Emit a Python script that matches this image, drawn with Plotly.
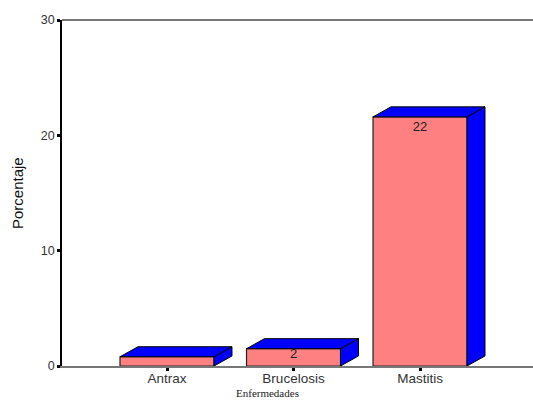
import plotly.graph_objects as go

categories = ["Antrax", "Brucelosis", "Mastitis"]
values = [0.8, 1.5, 21.6]
bar_labels = ["", "2", "22"]
label_heights = [0.4, 0.95, 20.7]
y_ticks = [0, 10, 20, 30]

positions = list(range(len(categories)))
BAR_W = 0.743
DX = 0.142
DY = 0.87
BLUE = "#0000FF"
PINK = "#FF8080"

fig = go.Figure()

# 3D depth faces derived from each value
for p, v in zip(positions, values):
    l, r = p - BAR_W / 2, p + BAR_W / 2
    fig.add_trace(go.Scatter(
        x=[r, r + DX, r + DX, r, r], y=[0, DY, v + DY, v, 0],
        mode="lines", fill="toself", fillcolor=BLUE,
        line=dict(color="#000000", width=1), hoverinfo="skip", showlegend=False))
    fig.add_trace(go.Scatter(
        x=[l, l + DX, r + DX, r, l], y=[v, v + DY, v + DY, v, v],
        mode="lines", fill="toself", fillcolor=BLUE,
        line=dict(color="#000000", width=1), hoverinfo="skip", showlegend=False))

fig.add_trace(go.Bar(
    x=positions, y=values, width=BAR_W,
    marker=dict(color=PINK, line=dict(color="#222222", width=1.2)),
    showlegend=False))

fig.add_trace(go.Scatter(
    x=positions, y=label_heights, mode="text", text=bar_labels,
    textposition="middle center",
    textfont=dict(family="Liberation Sans", size=13, color="#222222"),
    showlegend=False, hoverinfo="skip"))

fig.update_layout(
    width=533, height=400,
    margin=dict(l=62, r=0, t=20, b=34, autoexpand=False),
    paper_bgcolor="white", plot_bgcolor="white",
    font=dict(family="Liberation Sans", color="#222222"),
    bargap=0.25,
    shapes=[dict(type="line", xref="paper", yref="paper", x0=0, x1=1, y0=1, y1=1,
                 line=dict(color="#777777", width=2))],
    annotations=[
        dict(text="Enfermedades", xref="paper", yref="paper", x=0.437, y=0,
             xanchor="center", yanchor="bottom", yshift=-34, showarrow=False,
             borderpad=0, font=dict(family="Liberation Serif", size=11, color="#222222")),
        dict(text="Porcentaje", xref="paper", yref="paper", x=0, y=0.5,
             xanchor="center", yanchor="middle", xshift=-45, showarrow=False, textangle=-90,
             font=dict(family="Liberation Sans", size=15, color="#111111")),
    ],
)
fig.update_xaxes(
    range=[-0.83, 2.893],
    tickmode="array", tickvals=positions, ticktext=categories,
    ticks="outside", ticklen=3, tickwidth=3, tickcolor="#000000", ticklabelstandoff=-4,
    tickfont=dict(family="Liberation Sans", size=13.5, color="#333333"),
    showgrid=False, zeroline=False, showline=True, linecolor="#777777", linewidth=2)
fig.update_yaxes(
    range=[0, 30],
    tickmode="array", tickvals=y_ticks,
    ticks="outside", ticklen=3, tickwidth=3, tickcolor="#000000",
    tickfont=dict(family="Liberation Sans", size=12.5, color="#333333"),
    showgrid=False, zeroline=False, showline=True, linecolor="#000000", linewidth=1.5)

fig.write_html("out.html", config=dict(displayModeBar=False),
               post_script="document.body.style.margin='0';document.documentElement.style.overflow='hidden';")
